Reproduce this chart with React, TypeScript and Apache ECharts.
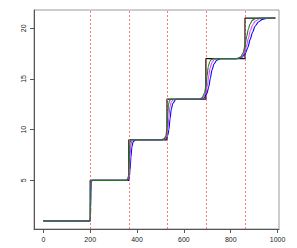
import React, { useEffect, useRef } from "react";
import * as echarts from "echarts";

const xTicks = [0, 200, 400, 600, 800, 1000];
const yTicks = [5, 10, 15, 20];
const changePoints = [200, 365, 528, 694, 861];

const blackPts = [
  [0, 1], [200, 1], [200, 5], [365, 5], [365, 9], [528, 9], [528, 13],
  [694, 13], [694, 17], [861, 17], [861, 21], [990, 21],
];
const greenPts = [
  [0, 1], [199, 1], [200, 1.5], [201, 3], [202, 4.5], [204, 5],
  [350, 5], [358, 5.05], [363, 5.4], [366, 6.5], [368, 8], [370, 8.7], [374, 9],
  [505, 9], [516, 9.1], [523, 9.4], [528, 10.2], [531, 11.5], [534, 12.4], [538, 12.85], [546, 13],
  [665, 13], [678, 13.15], [688, 13.6], [694, 14.3], [699, 15.3], [704, 16.2], [710, 16.7], [718, 16.93], [728, 17],
  [825, 17], [842, 17.15], [853, 17.6], [861, 18.3], [868, 19.2], [875, 19.9], [883, 20.45], [893, 20.8], [907, 20.96], [925, 21], [990, 21],
];
const magentaPts = [
  [0, 1], [199, 1], [200.5, 1.4], [201.5, 2.6], [202.5, 4.2], [205, 5],
  [350, 5], [360, 5.05], [365, 5.35], [368, 6.2], [371, 7.6], [374, 8.5], [378, 8.9], [386, 9],
  [505, 9], [519, 9.1], [527, 9.4], [532, 10.1], [536, 11.3], [540, 12.2], [546, 12.75], [558, 13],
  [665, 13], [682, 13.15], [693, 13.6], [700, 14.3], [706, 15.3], [712, 16.1], [720, 16.65], [730, 16.92], [744, 17],
  [825, 17], [845, 17.15], [858, 17.55], [867, 18.2], [875, 19], [884, 19.8], [894, 20.35], [906, 20.72], [922, 20.93], [945, 21], [990, 21],
];
const bluePts = [
  [0, 1], [199, 1], [201, 1.3], [202, 2.3], [203, 3.8], [204.5, 4.7], [207, 5],
  [350, 5], [362, 5.05], [367, 5.3], [370, 6], [374, 7.3], [378, 8.3], [383, 8.8], [392, 9],
  [505, 9], [522, 9.1], [531, 9.4], [536, 10], [541, 11.1], [546, 12], [553, 12.6], [566, 13],
  [665, 13], [686, 13.15], [698, 13.55], [706, 14.2], [713, 15.1], [720, 15.9], [729, 16.5], [740, 16.85], [756, 17],
  [825, 17], [848, 17.15], [862, 17.5], [873, 18.1], [883, 18.9], [893, 19.6], [904, 20.2], [918, 20.62], [935, 20.88], [958, 20.99], [990, 21],
];

export default function App() {
  const ref = useRef<HTMLDivElement>(null);
  useEffect(() => {
    if (!ref.current) return;
    const chart = echarts.init(ref.current, null, { renderer: "svg" });
    const font = "Liberation Sans, Arial, sans-serif";
    const lineSeries = (data: number[][], color: string, z: number) => ({
      type: "line", data, symbol: "none", smooth: 0.25, smoothMonotone: "x",
      lineStyle: { color, width: 1.1 }, z,
    });
    chart.setOption({
      animation: false,
      backgroundColor: "#ffffff",
      grid: {
        left: 34, top: 10, right: 18, bottom: 19,
        show: true, borderColor: "#9a9a9a", borderWidth: 1,
      },
      xAxis: {
        type: "value", min: -40, max: 1006,
        axisLine: { show: true, onZero: false, lineStyle: { color: "#555", width: 1 } },
        axisTick: { show: true, length: 4, customValues: xTicks, lineStyle: { color: "#555" } },
        axisLabel: {
          customValues: xTicks, fontSize: 7, fontFamily: font, color: "#222", margin: 7,
          formatter: (v: number) => String(v),
        },
        splitLine: { show: false },
      },
      yAxis: {
        type: "value", min: 0.2, max: 21.8,
        axisLine: { show: true, onZero: false, lineStyle: { color: "#555", width: 1 } },
        axisTick: { show: true, length: 4, customValues: yTicks, lineStyle: { color: "#555" } },
        axisLabel: {
          customValues: yTicks, fontSize: 7, fontFamily: font, color: "#222", rotate: 90, margin: 7,
          formatter: (v: number) => String(v),
        },
        splitLine: { show: false },
      },
      series: [
        {
          type: "line", data: blackPts, symbol: "none",
          lineStyle: { color: "#111", width: 1.3 }, z: 2,
          markLine: {
            silent: true, symbol: ["none", "none"], label: { show: false },
            lineStyle: { color: "#ff5555", type: [2, 2], width: 0.8 },
            data: changePoints.map((v) => ({ xAxis: v })),
          },
        },
        lineSeries(bluePts, "#0000ff", 3),
        lineSeries(magentaPts, "#dd44ff", 4),
        lineSeries(greenPts, "#1e7a1e", 5),
      ],
    });
    return () => chart.dispose();
  }, []);
  return (
    <div
      ref={ref}
      style={{ position: "fixed", left: 0, top: 0, width: 297, height: 248 }}
    />
  );
}
